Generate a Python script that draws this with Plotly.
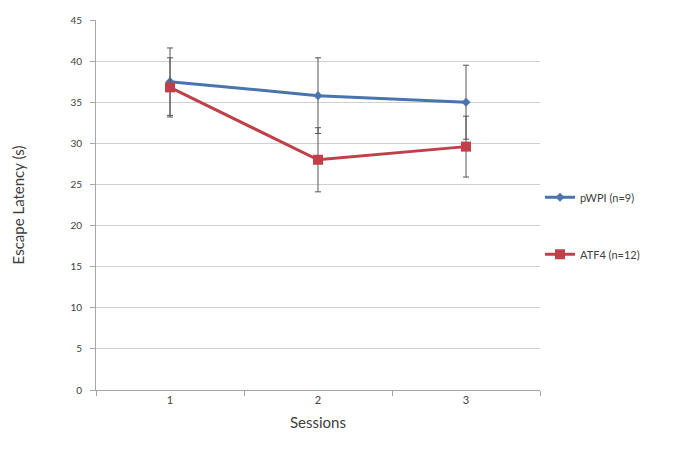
import plotly.graph_objects as go

sessions = ["1", "2", "3"]
pwpi_mean = [37.5, 35.8, 35.0]
pwpi_err = [4.1, 4.6, 4.5]
atf4_mean = [36.8, 28.0, 29.6]
atf4_err = [3.6, 3.9, 3.7]
y_ticks = [0, 5, 10, 15, 20, 25, 30, 35, 40, 45]

fig = go.Figure()
fig.add_trace(go.Scatter(
    x=sessions, y=pwpi_mean, name="pWPI (n=9)", mode="lines+markers",
    line=dict(color="#4A74AE", width=3),
    marker=dict(symbol="diamond", size=7, color="#4A74AE"),
    error_y=dict(type="data", array=pwpi_err, color="#555555", thickness=1, width=3),
    legendgroup="a",
))
fig.add_trace(go.Scatter(
    x=sessions, y=atf4_mean, name="ATF4 (n=12)", mode="lines+markers",
    line=dict(color="#C0404A", width=3),
    marker=dict(symbol="square", size=10, color="#C0404A"),
    error_y=dict(type="data", array=atf4_err, color="#555555", thickness=1, width=3),
    legendgroup="b",
))

fig.update_layout(
    width=683, height=454,
    margin=dict(l=88, r=151, t=12, b=72, autoexpand=False),
    paper_bgcolor="white", plot_bgcolor="white",
    font=dict(family="Lato, Open Sans, sans-serif", color="#404040"),
    showlegend=True,
    legend=dict(x=1.0, y=0.56, xanchor="left", yanchor="top",
                font=dict(size=11, color="#404040"), tracegroupgap=38,
                itemwidth=30, bgcolor="rgba(0,0,0,0)"),
)
fig.update_xaxes(
    type="category", range=[-0.5, 2.5],
    showline=True, linecolor="#A6A6A6", linewidth=1,
    ticks="outside", tickson="boundaries", ticklen=5, tickcolor="#A6A6A6",
    showgrid=False,
    tickfont=dict(size=11, color="#404040"),
    title=dict(text="Sessions", font=dict(size=15, color="#404040"), standoff=12),
)
fig.update_yaxes(
    range=[0, 45], tickvals=y_ticks,
    showline=True, linecolor="#A6A6A6", linewidth=1,
    ticks="outside", ticklen=5, tickcolor="#A6A6A6",
    showgrid=True, gridcolor="#D0D0D0", gridwidth=1,
    zeroline=False, ticklabelstandoff=6,
    tickfont=dict(size=10, color="#404040"),
    title=dict(text="Escape Latency (s)", font=dict(size=15, color="#404040"), standoff=42),
)

fig.write_html("out.html")
